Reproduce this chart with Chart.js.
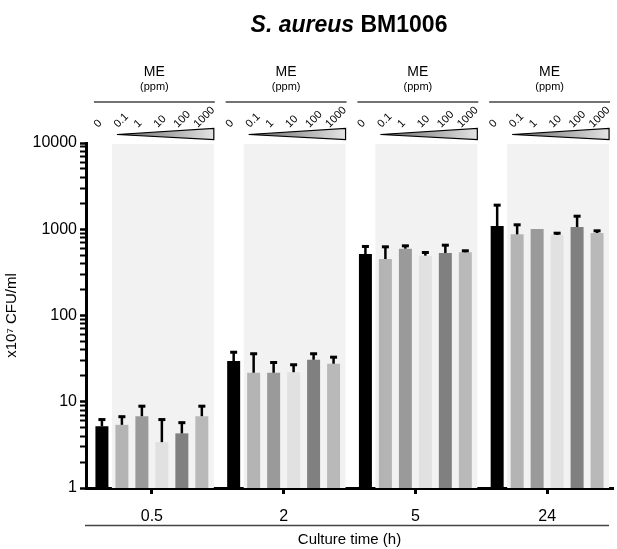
<!DOCTYPE html>
<html>
<head>
<meta charset="utf-8">
<script src="https://cdn.jsdelivr.net/npm/chart.js@4/dist/chart.umd.min.js"></script>
<style>
  body { margin: 0; background: #fff; }
  canvas { display: block; }
</style>
</head>
<body>
<canvas id="chart" width="617" height="549"></canvas>
<script>
// culture times (h) and ME doses (ppm)
var times = ['0.5', '2', '5', '24'];
var doses = ['0', '0.1', '1', '10', '100', '1000'];

// mean counts, x10^7 CFU/ml
var me0    = [5.2, 29.7, 517, 1090];
var me01   = [5.4, 21.7, 452, 873];
var me1    = [6.8, 21.7, 595, 1006];
var me10   = [3.4, 22.0, 494, 857];
var me100  = [4.3, 30.7, 531, 1062];
var me1000 = [6.8, 27.6, 541, 905];

// upper error (SD)
var sd0    = [1.1, 8.3, 123, 838];
var sd01   = [1.4, 14.8, 182, 268];
var sd1    = [2.2, 7.2, 56, 0];
var sd10   = [2.9, 5.2, 51, 55];
var sd100  = [1.5, 5.8, 131, 374];
var sd1000 = [2.2, 5.7, 29, 67];

var yTicks = [1, 10, 100, 1000, 10000];

var means = [me0, me01, me1, me10, me100, me1000];
var sds = [sd0, sd01, sd1, sd10, sd100, sd1000];
var colors = ['#000000', '#b4b4b4', '#9a9a9a', '#e1e1e1', '#808080', '#b9b9b9'];

var font = "'Liberation Sans', Arial, sans-serif";

var datasets = [];
for (var j = 0; j < doses.length; j++) {
	datasets.push({
		label: doses[j] + ' ppm',
		data: means[j],
		backgroundColor: colors[j],
		borderWidth: 0,
		categoryPercentage: 0.91,
		barPercentage: 0.65
	});
}

var extras = {
	id: 'extras',
	beforeDatasetsDraw: function(chart) {
		var ctx = chart.ctx, area = chart.chartArea;
		var m0 = chart.getDatasetMeta(0), m1 = chart.getDatasetMeta(1);
		var m4 = chart.getDatasetMeta(4), m5 = chart.getDatasetMeta(5);
		ctx.save();
		ctx.fillStyle = '#f2f2f2';
		for (var i = 0; i < times.length; i++) {
			var x0 = (m0.data[i].x + m1.data[i].x) / 2;
			var x1 = m5.data[i].x + (m5.data[i].x - m4.data[i].x) / 2 + 2;
			ctx.fillRect(x0, area.top + 1, x1 - x0, area.bottom - area.top - 1);
		}
		ctx.restore();
	},
	afterDatasetsDraw: function(chart) {
		var ctx = chart.ctx, y = chart.scales.y;
		ctx.save();
		ctx.strokeStyle = '#000';
		ctx.fillStyle = '#000';
		ctx.lineWidth = 2.5;
		for (var j = 0; j < means.length; j++) {
			var meta = chart.getDatasetMeta(j);
			for (var i = 0; i < times.length; i++) {
				if (!sds[j][i]) continue;
				var bar = meta.data[i];
				var top = y.getPixelForValue(means[j][i] + sds[j][i]);
				ctx.beginPath();
				ctx.moveTo(bar.x, bar.y);
				ctx.lineTo(bar.x, top);
				ctx.stroke();
				ctx.fillRect(bar.x - 3.5, top - 1, 7, 3);
			}
		}
		ctx.restore();
	},
	afterDraw: function(chart) {
		var ctx = chart.ctx;
		ctx.save();

		// title with italic species name
		var t1 = 'S. aureus ', t2 = 'BM1006';
		ctx.font = 'italic bold 23px ' + font;
		var w1 = ctx.measureText(t1).width;
		ctx.font = 'bold 23px ' + font;
		var w2 = ctx.measureText(t2).width;
		var tx = 349 - (w1 + w2) / 2;
		ctx.fillStyle = '#000';
		ctx.textBaseline = 'alphabetic';
		ctx.textAlign = 'left';
		ctx.font = 'italic bold 23px ' + font;
		ctx.fillText(t1, tx, 32);
		ctx.font = 'bold 23px ' + font;
		ctx.fillText(t2, tx + w1, 32);

		// ME dose headers
		var m0 = chart.getDatasetMeta(0), m1 = chart.getDatasetMeta(1);
		var m4 = chart.getDatasetMeta(4), m5 = chart.getDatasetMeta(5);
		for (var i = 0; i < times.length; i++) {
			var left = m0.data[i].x - 8;
			var right = m5.data[i].x + (m5.data[i].x - m4.data[i].x) / 2 + 3;
			var cx = (left + right) / 2;
			ctx.fillStyle = '#000';
			ctx.textAlign = 'center';
			ctx.textBaseline = 'middle';
			ctx.font = '14px ' + font;
			ctx.fillText('ME', cx, 72);
			ctx.font = '11px ' + font;
			ctx.fillText('(ppm)', cx, 87);

			ctx.strokeStyle = '#444';
			ctx.lineWidth = 1.5;
			ctx.beginPath();
			ctx.moveTo(left, 102);
			ctx.lineTo(right, 102);
			ctx.stroke();

			ctx.font = '11px ' + font;
			ctx.textAlign = 'left';
			ctx.textBaseline = 'alphabetic';
			for (var j = 0; j < doses.length; j++) {
				var bx = chart.getDatasetMeta(j).data[i].x;
				ctx.save();
				ctx.translate(bx - 4, 128);
				ctx.rotate(-Math.PI / 4);
				ctx.fillText(doses[j], 0, 0);
				ctx.restore();
			}

			// concentration wedge
			var tipX = m1.data[i].x - 5, endX = right - 1;
			var g = ctx.createLinearGradient(tipX, 0, endX, 0);
			g.addColorStop(0, '#666');
			g.addColorStop(1, '#e4e4e4');
			ctx.fillStyle = g;
			ctx.strokeStyle = '#000';
			ctx.lineWidth = 1.2;
			ctx.beginPath();
			ctx.moveTo(tipX, 134.5);
			ctx.lineTo(endX, 128.5);
			ctx.lineTo(endX, 139.5);
			ctx.closePath();
			ctx.fill();
			ctx.stroke();
		}

		// separator above the x title
		ctx.strokeStyle = '#444';
		ctx.lineWidth = 1.5;
		ctx.beginPath();
		ctx.moveTo(85, 525.5);
		ctx.lineTo(609, 525.5);
		ctx.stroke();
		ctx.restore();
	}
};

new Chart(document.getElementById('chart').getContext('2d'), {
	type: 'bar',
	data: { labels: times, datasets: datasets },
	options: {
		responsive: false,
		animation: false,
		layout: { padding: { top: 143, right: 4, bottom: 0, left: 0 } },
		plugins: {
			legend: { display: false },
			tooltip: { enabled: false }
		},
		scales: {
			x: {
				grid: { display: true, drawOnChartArea: false, offset: false, tickLength: 6, tickWidth: 3, tickColor: '#000' },
				border: { color: '#000', width: 3 },
				ticks: { color: '#000', padding: 13, font: { family: font, size: 16 } },
				title: { display: true, text: 'Culture time (h)', color: '#000', padding: { top: 0, bottom: 0 }, font: { family: font, size: 15 } },
				afterFit: function(s) { s.height = 61; }
			},
			y: {
				type: 'logarithmic',
				min: 1,
				max: 10000,
				afterBuildTicks: function(s) {
					var t = [];
					for (var k = 0; k < yTicks.length - 1; k++) {
						for (var n = 1; n < 10; n++) t.push({ value: yTicks[k] * n });
					}
					t.push({ value: yTicks[yTicks.length - 1] });
					s.ticks = t;
				},
				grid: {
					display: true, drawOnChartArea: false, tickLength: 6, tickColor: '#000',
					tickWidth: function(c) { return yTicks.indexOf(c.tick.value) >= 0 ? 2.5 : 2; }
				},
				border: { color: '#000', width: 3 },
				ticks: {
					color: '#000', padding: 3, autoSkip: false,
					font: { family: font, size: 16 },
					callback: function(v) { return yTicks.indexOf(v) >= 0 ? String(v) : ''; }
				},
				title: { display: true, text: 'x10\u2077 CFU/ml', color: '#000', padding: { top: 3, bottom: 0 }, font: { family: font, size: 15 } },
				afterFit: function(s) { s.width = 86; }
			}
		}
	},
	plugins: [extras]
});
</script>
</body>
</html>
